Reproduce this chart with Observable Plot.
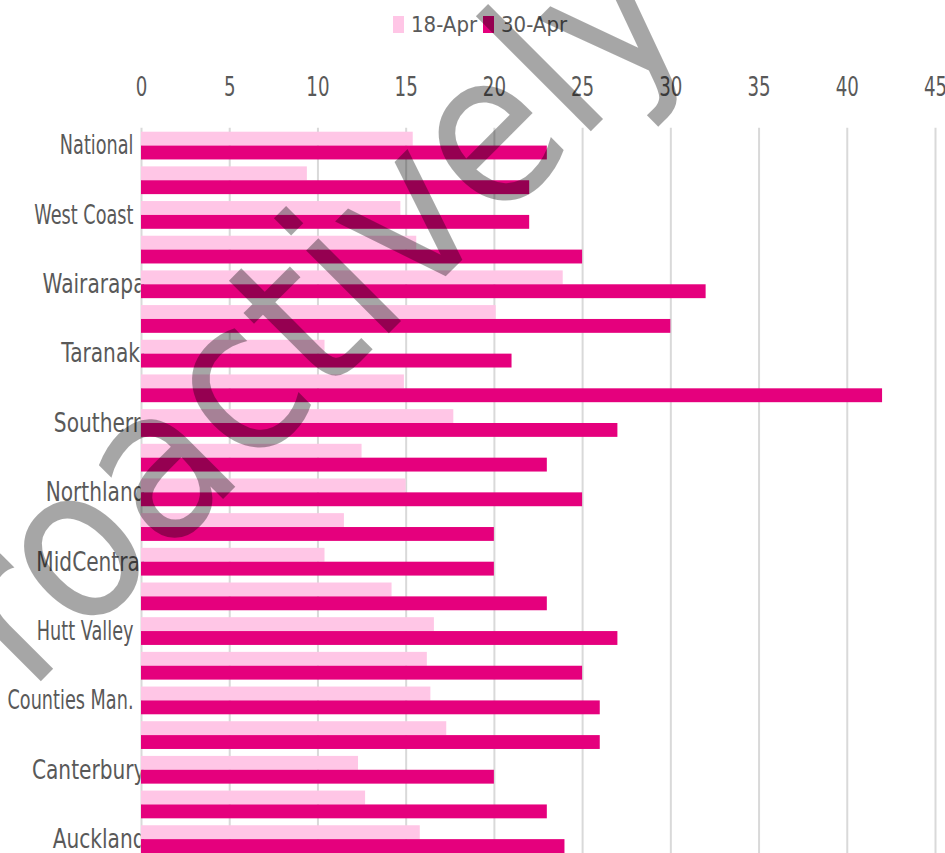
<!DOCTYPE html>
<html>
<head>
<meta charset="utf-8">
<script src="https://cdn.jsdelivr.net/npm/d3@7"></script>
<script src="https://cdn.jsdelivr.net/npm/@observablehq/plot@0.6"></script>
<style>
  html, body { margin: 0; padding: 0; background: #ffffff; overflow: hidden; }
  #chart svg { display: block; }
</style>
</head>
<body>
<div id="chart"></div>
<script>
// ---- data ----
const categories = [
  "National", "Whanganui", "West Coast", "Waitemata", "Wairarapa", "Waikato",
  "Taranaki", "Tairawhiti", "Southern", "South Canterbury", "Northland",
  "Nelson Marlborough", "MidCentral", "Lakes", "Hutt Valley", "Hawke's Bay",
  "Counties Man.", "Capital & Coast", "Canterbury", "Bay of Plenty", "Auckland"
];
const seriesNames = ["18-Apr", "30-Apr"];
const values18Apr = [15.4, 9.4, 14.7, 15.6, 23.9, 20.1, 10.4, 14.9, 17.7, 12.5, 15.0,
                     11.5, 10.4, 14.2, 16.6, 16.2, 16.4, 17.3, 12.3, 12.7, 15.8];
const values30Apr = [23, 22, 22, 25, 32, 30, 21, 42, 27, 23, 25,
                     20, 20, 23, 27, 25, 26, 26, 20, 23, 24];
const xTicks = [0, 5, 10, 15, 20, 25, 30, 35, 40, 45];
const labeledCategories = categories.filter((d, i) => i % 2 === 0);
const watermarkText = "proactively";

// ---- build table ----
const rows18 = categories.map((c, i) => ({category: c, series: seriesNames[0], value: values18Apr[i]}));
const rows30 = categories.map((c, i) => ({category: c, series: seriesNames[1], value: values30Apr[i]}));

const W = 945, H = 853, MT = 131.7, MB = 0, ML = 141, MR = 10;
const step = (H - MT - MB) / (categories.length - 0.2);
const half = step * 0.8 / 2;
const colors = ["#FFC6E6", "#E5007D"];
const textColor = "#595959";
const baseFont = "'DejaVu Sans', Verdana, sans-serif";
const tickSqueeze = 0.7;
// labels that end short of the axis in the reference, and their narrower lettering
const shortLabels = new Set(["National", "West Coast", "Hutt Valley", "Counties Man."]);
const shortSqueeze = 0.68, longSqueeze = 0.775, shortShift = -12;

const chart = Plot.plot({
  width: W,
  height: H,
  marginTop: MT,
  marginBottom: MB,
  marginLeft: ML,
  marginRight: MR,
  style: {fontFamily: baseFont, background: "#ffffff", overflow: "visible"},
  x: {domain: [0, 45], label: null},
  y: {domain: categories, paddingInner: 0.2, paddingOuter: 0, round: false, label: null},
  color: {domain: seriesNames, range: colors},
  marks: [
    Plot.axisY(labeledCategories, {
      tickSize: 0, tickPadding: 0, dx: 4, fontSize: 26, fill: textColor, label: null
    }),
    Plot.ruleX(xTicks, {x: d => d, stroke: "#D9D9D9", strokeWidth: 2, insetTop: -4}),
    Plot.barX(rows18, {x: "value", y: "category", fill: "series", insetBottom: half}),
    Plot.barX(rows30, {x: "value", y: "category", fill: "series", insetTop: half}),
    Plot.axisX(xTicks, {
      anchor: "top", tickSize: 0, tickPadding: 36, fontSize: 26, fill: textColor, label: null
    })
  ]
});

document.getElementById("chart").appendChild(chart);
const svg = d3.select(chart);

// squeeze axis texts horizontally (the reference lettering is narrow)
function squeezeText(el, factor) {
  const w = el.getComputedTextLength();
  if (w > 0) {
    el.setAttribute("textLength", (w * factor).toFixed(2));
    el.setAttribute("lengthAdjust", "spacingAndGlyphs");
  }
}
svg.selectAll('g[aria-label="x-axis tick label"] text').each(function () {
  squeezeText(this, tickSqueeze);
});
svg.selectAll('g[aria-label="y-axis tick label"] text').each(function () {
  const label = this.textContent;
  if (shortLabels.has(label)) {
    squeezeText(this, shortSqueeze);
    this.setAttribute("dx", shortShift);
  } else {
    squeezeText(this, longSqueeze);
  }
});

// ---- legend (inside the svg, above the axis) ----
const legend = svg.append("g").attr("font-family", baseFont)
  .attr("font-stretch", "condensed").attr("font-size", 22).attr("fill", textColor)
  .attr("text-anchor", "start");
const legendItems = [
  {name: seriesNames[0], color: colors[0], x: 393},
  {name: seriesNames[1], color: colors[1], x: 483}
];
legendItems.forEach(it => {
  legend.append("rect").attr("x", it.x).attr("y", 16).attr("width", 11).attr("height", 17).attr("fill", it.color);
  legend.append("text").attr("x", it.x + 18).attr("y", 32).text(it.name);
});

// ---- watermark ----
const wm = svg.append("text")
  .attr("transform", "translate(-58,780) rotate(-45)")
  .attr("text-anchor", "start")
  .attr("font-family", baseFont)
  .attr("font-stretch", "condensed")
  .attr("font-size", 214)
  .attr("fill", "#000000")
  .attr("fill-opacity", 0.35);
wm.append("tspan").attr("dx", -30).text(watermarkText.slice(0, 1));
wm.append("tspan").attr("dx", 30).text(watermarkText.slice(1));
</script>
</body>
</html>
